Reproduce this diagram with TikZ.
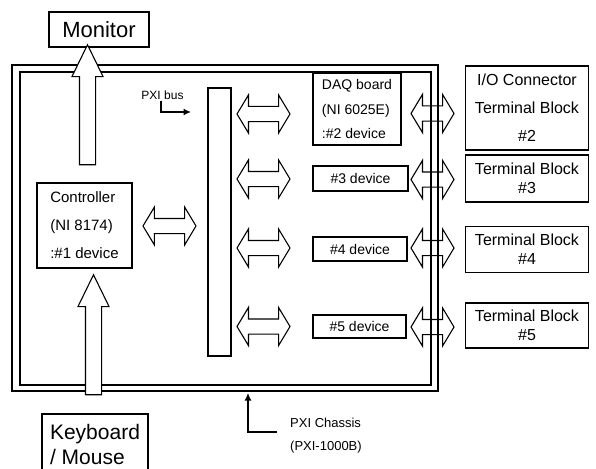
\documentclass[tikz,border=0pt]{standalone}
\usepackage{fontspec}
\setmainfont{Liberation Sans}
\usetikzlibrary{shapes.arrows,arrows.meta}

\begin{document}
\begin{tikzpicture}[x=1pt,y=-1pt,
    box/.style={draw,line width=1.1pt,inner sep=0pt},
    dblarrow/.style={draw,double arrow,line width=1.1pt,inner xsep=0pt,inner ysep=7pt,
      minimum height=#1,
      double arrow head extend=11.5pt,double arrow tip angle=118},
    uparrow/.style={draw,fill=white,single arrow,shape border rotate=90,
      line width=1.1pt,inner sep=7.5pt,minimum height=120pt,
      single arrow head extend=7.5pt,single arrow tip angle=52},
    pointer/.style={line width=1.4pt,-{Latex[length=7.5pt,width=7pt]}}]
  \useasboundingbox (0,0) rectangle (596,468);

  % chassis frame
  \draw[line width=1.1pt] (12,65) rectangle (438,391);
  \draw[line width=1.6pt] (20,72) rectangle (431,385);

  % outside devices
  \node[box,minimum width=100pt,minimum height=35pt,font=\fontsize{22}{24}\selectfont] (monitor) at (99,29.5) {Monitor};
  \node[box,minimum width=106pt,minimum height=61pt,align=left,font=\fontsize{21}{25}\selectfont] (keyboard) at (95,444.5) {Keyboard\\/ Mouse};

  % inside the chassis
  \node[box,minimum width=95pt,minimum height=85pt,align=left,font=\fontsize{15}{28}\selectfont] (ctrl) at (84.5,225.5) {Controller\\(NI 8174)\\:\#1 device};
  \node[box,minimum width=23pt,minimum height=268pt] (bus) at (219.5,222) {};
  \node[font=\fontsize{12}{14}\selectfont,inner sep=1pt] (buslbl) at (162.5,95) {PXI bus};
  \coordinate (bustip) at (191,112);
  \draw[pointer] ([xshift=-1.5pt]buslbl.south) |- (bustip);

  \node[box,minimum width=88pt,minimum height=72pt,align=left,font=\fontsize{14}{24.5}\selectfont] (daq) at (357,109) {DAQ board\\(NI 6025E)\\:\#2 device};
  \node[box,minimum width=95pt,minimum height=25pt,font=\fontsize{14}{17}\selectfont] (dev3) at (360.5,178.5) {\#3 device};
  \node[box,minimum width=94pt,minimum height=24pt,font=\fontsize{14}{17}\selectfont] (dev4) at (360,249) {\#4 device};
  \node[box,minimum width=93pt,minimum height=23pt,font=\fontsize{14}{17}\selectfont] (dev5) at (359.5,326.5) {\#5 device};

  % terminal blocks
  \node[box,minimum width=123pt,minimum height=84pt,align=center,font=\fontsize{16}{28}\selectfont] (tb2) at (527,108) {I/O Connector\\Terminal Block\\\#2};
  \node[box,minimum width=123pt,minimum height=47pt,align=center,font=\fontsize{16}{19}\selectfont] (tb3) at (527,178.5) {Terminal Block\\\#3};
  \node[box,minimum width=123pt,minimum height=46pt,align=center,font=\fontsize{16}{19}\selectfont] (tb4) at (527,249.5) {Terminal Block\\\#4};
  \node[box,minimum width=123pt,minimum height=45pt,align=center,font=\fontsize{16}{19}\selectfont] (tb5) at (527,325.5) {Terminal Block\\\#5};

  % block arrows
  \node[uparrow] (upmon) at (87.5,113) {};
  \node[uparrow] (upkey) at (93.5,343) {};
  \node[dblarrow=53pt] (ctrlbus) at (169.5,226) {};
  \node[dblarrow=53pt] (busdaq) at (263.5,114) {};
  \node[dblarrow=53pt] (busdev3) at (263.5,179) {};
  \node[dblarrow=53pt] (busdev4) at (263.5,248) {};
  \node[dblarrow=53pt] (busdev5) at (263.5,326.5) {};
  \node[dblarrow=43pt] (daqtb2) at (432.5,113.5) {};
  \node[dblarrow=43pt] (dev3tb3) at (432.5,179.5) {};
  \node[dblarrow=43pt] (dev4tb4) at (432.5,248) {};
  \node[dblarrow=43pt] (dev5tb5) at (432.5,327) {};

  % chassis label
  \node[font=\fontsize{13}{16}\selectfont,anchor=west,inner sep=0pt] (chlbl) at (290,423) {PXI Chassis};
  \node[font=\fontsize{13}{16}\selectfont,anchor=west,inner sep=0pt] (chmodel) at (290,447) {(PXI-1000B)};
  \coordinate (chfoot) at (277,432);
  \coordinate (chtip) at (248,393);
  \draw[pointer] (chfoot) -| (chtip);
\end{tikzpicture}
\end{document}
